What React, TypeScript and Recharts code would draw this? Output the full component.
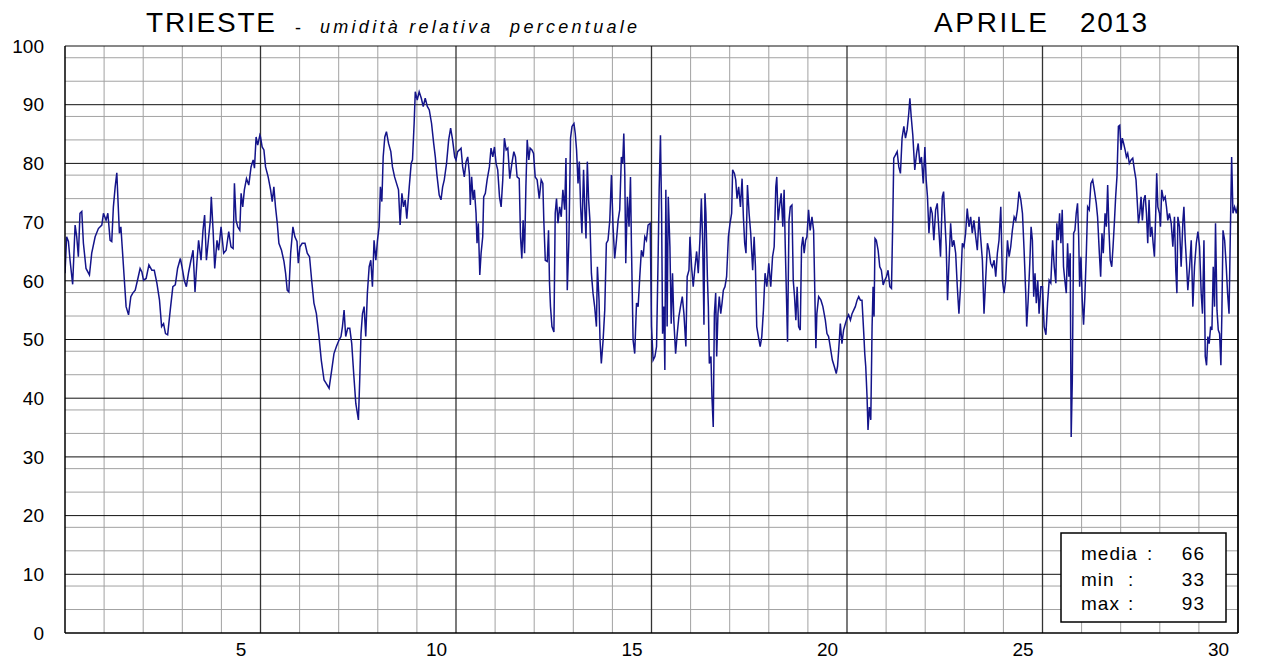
import { LineChart, Line, CartesianGrid, XAxis, YAxis } from "recharts";

const FONT = "'Liberation Sans', Arial, sans-serif";

// relative humidity (%), time in hours from 1 April 00:00
// days 1-5
const hours1 = [
  0, 1, 2.1, 3.1, 4.7, 6.2, 7.2, 8.2, 9.2, 10.3, 11.3, 12.9, 15, 16.4, 18.5, 20.5, 22.6, 23.6, 25.2, 26.3,
  27.7, 28.7, 29.7, 30.8, 31.8, 32.6, 33.4, 34.3, 35.1, 36.3, 37.5, 39, 40.4, 41.6, 43.1, 44.5, 46.1, 47.2, 48.2, 49.8,
  51.5, 53.3, 54.8, 56.4, 58, 59.3, 60.5, 61.7, 63, 64.6, 66.2, 67.7, 69.1, 70.8, 71.8, 73.2, 74.5, 75.9, 77.3, 78.6,
  79.8, 81, 82, 83.5, 84.7, 85.7, 86.8, 88.2, 89.2, 89.8, 90.9, 91.9, 93.3, 94.3, 95.8, 97.4, 98.9, 100.5, 101.9, 103.2,
  104, 105, 106, 107.3, 108.1, 109.1, 110.1, 111.4, 112.8, 114.2, 115.5, 116.3, 117.3, 118.3, 119.6,
];
const rh1 = [
  61.3, 67.5, 66.7, 63.5, 59.4, 69.5, 67.5, 64.1, 71.5, 71.8, 66.4, 62.1, 61, 64.7, 67.5, 68.9, 69.5, 71.5, 70.3, 71.5,
  66.9, 66.7, 72.6, 76, 78.4, 73.2, 68.1, 69.2, 65.8, 60.7, 55.6, 54.2, 57.3, 57.9, 58.4, 60.1, 62.1, 61.5, 60.1, 60.4,
  62.7, 61.8, 61.8, 59.6, 56.7, 52.2, 52.7, 51, 50.8, 55, 59, 59.3, 62.1, 63.8, 62.4, 60.1, 59, 61.5, 63.5, 65.2,
  58.1, 63.3, 66.9, 63.5, 68.6, 71.2, 63.5, 67.5, 70.3, 74.3, 68.6, 62.1, 66.9, 65.2, 69.2, 64.7, 65.2, 68.4, 65.8, 65.5,
  76.6, 70.3, 69.2, 68.6, 74.9, 72.6, 75.5, 77.4, 76.3, 79.4, 80.6, 79.2, 84.5, 83.1, 84.8,
];

// days 6-10
const hours2 = [
  120, 121, 122.1, 123.1, 124.7, 126.2, 127.2, 128.2, 129.2, 130.3, 131.3, 132.9, 134.4, 135.4, 136.4, 137.4, 138.5, 139.9, 141.1, 142.4,
  143.2, 144.2, 145.6, 147.3, 148.7, 150.1, 151.4, 152.8, 154.3, 155.9, 157.3, 159, 160.4, 162.1, 163.7, 165.1, 166.6, 168.2, 169.4, 170.3,
  171.3, 172.3, 173.5, 174.8, 176, 177.2, 178.5, 180.1, 180.9, 181.7, 182.6, 183.6, 184.6, 185.6, 186.7, 187.7, 188.7, 189.7, 190.8, 191.8,
  192.8, 193.6, 194.5, 195.3, 196.3, 197.3, 198.6, 200, 201, 202.3, 203.5, 204.7, 205.7, 206.8, 207.8, 208.8, 209.8, 211.3, 212.5, 213.3,
  214.3, 215, 216.2, 217.4, 218.7, 219.9, 221.1, 222.4, 223.6, 225, 226.3, 227.3, 228.3, 229.7, 230.8, 231.8, 232.8, 234.2, 235.5, 236.7,
  237.9, 239.2,
];
const rh2 = [
  84.5, 82.8, 82.3, 79.4, 77.7, 75.5, 73.5, 76, 72.6, 69.8, 66.4, 65.2, 63.3, 61.3, 58.4, 58.1, 64.7, 69.2, 67.5, 66.7,
  63, 65.8, 66.4, 66.4, 64.7, 64.1, 60.1, 56.2, 54.4, 50.5, 46.5, 43.1, 42.5, 41.7, 44.8, 47.6, 48.8, 49.9, 50.5, 52.2,
  55, 50.5, 51.9, 51.9, 49.3, 44.2, 39.1, 36.3, 43.1, 51, 54.4, 55.6, 50.5, 57.9, 62.4, 63.5, 59, 66.9, 63.5, 66.9,
  69.2, 76, 73.5, 81.1, 84.5, 85.4, 83.4, 82, 79.4, 77.7, 76.6, 75.5, 69.5, 74.9, 72.6, 73.8, 70.6, 76, 80, 80.6,
  86.8, 92.2, 90.8, 92.2, 91.1, 89.7, 91.1, 89.7, 89.1, 86.8, 83.4, 81.1, 78, 74.6, 73.8, 76, 77.2, 80, 84, 86,
  84, 81.1,
];

// days 11-15
const hours3 = [
  240, 241, 242.1, 243.1, 244.1, 245.1, 246.2, 247.2, 248.2, 248.8, 249.6, 250.5, 251.3, 252.3, 252.9, 253.7, 254.6, 255.4, 256.4, 257,
  258, 259.1, 260.5, 261.5, 262.6, 263.6, 264.6, 265.6, 266.7, 267.7, 268.7, 269.7, 270.8, 271.8, 273, 274.3, 275.5, 276.5, 277.5, 278.8,
  279.6, 280.4, 281.2, 282.1, 282.9, 283.7, 284.7, 285.5, 286.6, 287.6, 288.6, 289.8, 291.1, 292.3, 293.3, 293.9, 294.8, 296, 296.8, 297.4,
  298, 298.9, 300.1, 300.9, 301.7, 302.6, 303.6, 304.6, 305.6, 306.7, 307.5, 308.3, 309.3, 310.3, 311.2, 312.4, 313.2, 314, 314.9, 315.7,
  316.5, 317.3, 318.3, 319, 319.8, 320.6, 321.4, 322.2, 323.1, 324.1, 325.1, 326.2, 326.8, 327.8, 328.4, 329.2, 330.3, 331.3, 332.3, 333.3,
  334.4, 335.4, 336.4, 337.4, 338.5, 339.5, 340.5, 341.5, 342.3, 343, 343.6, 344.2, 345.2, 346.2, 347.1, 347.7, 348.7, 349.7, 350.8, 351.8,
  352.8, 353.8, 354.9, 355.9, 356.9, 357.9, 359.2,
];
const rh3 = [
  80.6, 82, 82.3, 82.6, 79.4, 77.7, 80.3, 81.1, 78.3, 72.9, 77.7, 73.8, 75.5, 71.5, 66.4, 69.8, 61, 64.7, 67.5, 74.3,
  74.9, 77.2, 79.4, 82.6, 81.1, 82.8, 80, 78.9, 74.3, 72.6, 77.2, 84.3, 82.3, 82.6, 77.4, 80, 82, 81.1, 77.7, 77.4,
  67.5, 63.8, 70.3, 64.7, 76, 84, 80.6, 82.6, 82.3, 81.7, 77.7, 77.2, 74, 77.2, 76.6, 70.3, 63.5, 63.3, 68.6, 59.6,
  55.6, 52.2, 51.3, 71.5, 74, 69.8, 72.6, 70.9, 75.5, 72.1, 80.9, 58.4, 66.9, 84.3, 86.3, 86.8, 85.1, 82.3, 76.6, 80.3,
  72.6, 68.1, 78.9, 72.6, 67.2, 80.3, 73.8, 70.3, 61.3, 57.9, 55.6, 52.2, 62.4, 56.7, 49.9, 45.9, 49.9, 55, 66.4, 66.9,
  70.3, 78, 69.2, 63.8, 66.9, 70.3, 72.1, 81.1, 80, 85.1, 78.3, 63, 74.3, 69.2, 77.7, 65.8, 49.9, 47.6, 56.2, 55.6,
  60.7, 65.2, 64.1, 67.5, 66.9, 69.5, 69.8,
];

// days 16-20
const hours4 = [
  360, 361, 362.1, 363.1, 364.1, 364.7, 365.5, 366.2, 366.8, 367.6, 368.2, 368.8, 369.6, 370.3, 371.3, 372.1, 372.9, 373.7, 374.8, 375.8,
  376.8, 377.8, 378.9, 379.9, 381.1, 381.9, 383, 383.6, 384.6, 385.6, 386.7, 387.7, 388.7, 389.7, 390.6, 391.4, 392.2, 392.8, 393.4, 394.3,
  394.9, 395.5, 396.5, 397.1, 397.9, 398.6, 399.4, 400, 400.8, 401.6, 402.5, 403.3, 404.1, 405.1, 406.1, 407.2, 408.2, 409.2, 409.8, 410.9,
  411.7, 412.5, 413.5, 414.6, 415.6, 416.4, 417.2, 418, 418.9, 419.9, 420.9, 422.1, 423, 423.8, 424.6, 425.6, 426.7, 427.7, 428.7, 429.7,
  430.8, 432, 433.2, 434.3, 435.3, 436.3, 436.9, 437.7, 438.6, 439.6, 440.6, 441.4, 442.1, 442.7, 443.5, 444.4, 445.2, 446.2, 447, 447.8,
  448.6, 449.4, 450.3, 451.3, 452.1, 452.9, 453.7, 454.6, 455.4, 456.4, 457.4, 458.5, 459.5, 460.1, 460.9, 461.5, 462.6, 464, 465.2, 466.7,
  467.7, 468.7, 469.7, 471, 472.2, 473.4, 474.2, 475.3, 475.9, 476.9, 477.9, 479,
];
const rh4 = [
  52.2, 46.5, 47.1, 48.8, 64.7, 75.5, 84.8, 71.5, 51, 55.6, 44.8, 75.5, 52.2, 74.3, 65.8, 52.7, 61.3, 53.3, 47.6, 51,
  53.9, 55.6, 57.3, 54.4, 48.8, 60.7, 61.8, 67.5, 62.4, 59, 62.4, 65, 61.3, 66.9, 74, 66.9, 52.5, 74.9, 71.5, 60.7,
  55.6, 45.9, 47.1, 40.3, 35.1, 54.4, 57.9, 47.1, 54.4, 57.3, 54.4, 56.2, 58.4, 59, 60.7, 67.5, 69.8, 71.5, 78.9, 78.3,
  77.2, 74, 76, 72.6, 77.4, 70.9, 66.4, 64.7, 76.3, 71.5, 68.1, 61.8, 67.5, 62.4, 52.2, 50.5, 48.8, 50.5, 55, 61.3,
  59, 63, 59, 64.1, 65.8, 76, 77.7, 70.3, 72.6, 74.9, 69.2, 75.5, 65.8, 59, 49.6, 70.3, 72.6, 72.9, 60.1, 57.3,
  53.3, 59, 52.2, 51.6, 65.8, 67.5, 64.7, 66.9, 67.5, 72.1, 68.6, 70.9, 68.6, 60.1, 48.5, 54.4, 57.3, 56.7, 55.6, 53.3,
  51, 50.5, 48.8, 46.5, 45.4, 44.2, 45.4, 49.9, 52.7, 49.3, 51.6, 52.7,
];

// days 21-25
const hours5 = [
  480, 481, 482.1, 483.1, 484.1, 485.1, 486.2, 487.2, 488.2, 489.2, 490.3, 490.9, 491.5, 492.3, 492.9, 493.7, 494.6, 495.4, 496, 496.6,
  497.2, 498, 499.1, 500.1, 501.1, 502.2, 503.2, 504.2, 505.2, 506.3, 507.3, 508.1, 508.7, 509.7, 510.8, 511.8, 512.8, 513.8, 514.9, 515.9,
  516.9, 517.9, 518.6, 519.4, 520.4, 521.6, 522.7, 523.7, 524.7, 525.7, 526.8, 527.8, 528.6, 529.4, 530.3, 531.3, 532.3, 533.3, 534.4, 535.4,
  536.4, 537.4, 538.5, 539.3, 540.1, 540.9, 541.7, 542.6, 543.6, 544.6, 545.6, 546.7, 547.7, 548.7, 549.7, 550.8, 551.8, 552.8, 553.8, 554.9,
  555.9, 556.9, 557.9, 559, 560, 561, 562, 563.1, 564.1, 565.1, 566.2, 567.2, 568.2, 569.2, 570.3, 571.3, 572.3, 573.3, 574.4, 575.4,
  576.4, 577.4, 578.5, 579.5, 580.5, 581.5, 582.6, 583.6, 584.6, 585.6, 586.7, 587.7, 588.7, 589.7, 590.3, 591.2, 592.2, 593, 593.8, 594.6,
  595.4, 596.2, 597.1, 597.9, 599,
];
const rh5 = [
  53.6, 54.2, 53.3, 54.4, 55, 55.6, 56.7, 57.3, 56.7, 56.7, 51, 47.6, 45.4, 40.3, 34.6, 38.5, 36.3, 52.2, 59, 53.9,
  67.2, 66.9, 65.2, 62.4, 61.8, 59.3, 60.1, 60.7, 61.8, 59, 58.7, 70.3, 80.9, 81.4, 82, 79.4, 78.3, 84.3, 86.3, 84.3,
  85.7, 88.5, 91.1, 88, 84.8, 78.9, 81.7, 83.4, 80, 81.1, 76.6, 82.8, 77.2, 74.3, 68.1, 72.6, 71.5, 66.9, 72.1, 73.2,
  68.6, 64.1, 74.3, 75.2, 70.3, 65.8, 56.7, 63, 69.8, 65.8, 66.9, 64.7, 59, 54.4, 59, 66.4, 65.8, 68.1, 72.3, 69.2,
  70.9, 68.1, 70.3, 67.5, 65.2, 70.9, 67.5, 63.5, 54.4, 60.1, 66.4, 65.2, 63, 62.4, 63.5, 60.7, 64.7, 66.9, 72.6, 60.1,
  57.9, 60.1, 66.9, 64.1, 65.8, 68.6, 70.9, 70.3, 72.1, 75.2, 73.8, 71.5, 65.2, 57.9, 52.2, 56.7, 63, 69.2, 66.9, 57.3,
  61.3, 56.2, 60.1, 54.4, 59,
];

// days 26-30
const hours6 = [
  600, 601, 602.1, 603.1, 604.1, 605.1, 606.2, 607.2, 608.2, 608.8, 609.6, 610.5, 611.3, 612.1, 612.9, 613.7, 614.6, 615.4, 616.2, 617,
  617.6, 618.3, 619.1, 619.9, 620.7, 621.5, 622.2, 622.8, 623.6, 624.4, 625.2, 626, 626.9, 627.7, 628.7, 629.7, 630.8, 631.8, 633, 633.8,
  634.9, 635.7, 636.5, 637.3, 638.4, 639.2, 640, 640.8, 641.6, 642.5, 643.3, 644.1, 644.9, 645.7, 646.6, 647.4, 648.2, 649, 649.8, 650.7,
  651.5, 652.3, 653.3, 654.4, 655.4, 656.4, 657.4, 658, 658.9, 659.7, 660.5, 661.3, 662.2, 663, 663.8, 664.6, 665.4, 666.2, 667.1, 667.9,
  668.7, 669.5, 670.1, 670.8, 671.8, 672.4, 673.2, 674.3, 675.3, 676.1, 676.9, 677.9, 679, 680, 681, 681.8, 682.5, 683.1, 684.1, 685.1,
  686.2, 686.8, 687.6, 688.4, 689.2, 690.3, 691.3, 692.3, 693.3, 694.4, 695.4, 696.4, 697.4, 698.2, 699.1, 699.9, 700.7, 701.5, 702.3, 703.2,
  704, 704.8, 705.6, 706.2, 707.1, 707.9, 708.7, 709.5, 710.1, 710.8, 711.8, 712.8, 713.6, 714.5, 715.3, 716.1, 716.9, 717.9, 719, 720,
];
const rh6 = [
  59, 52.2, 50.8, 56.2, 60.1, 59.6, 66.9, 62.4, 59.6, 69.8, 66.9, 71.5, 66.4, 72.1, 62.4, 60.1, 57.9, 66.4, 60.7, 64.7,
  33.4, 43.1, 68.1, 68.6, 71.5, 73.2, 67.5, 59, 64.1, 56.7, 52.5, 57.3, 64.7, 72.6, 72.1, 76.6, 77.2, 75.5, 73.2, 70.9,
  64.7, 60.7, 68.1, 64.7, 71.5, 69.2, 76.3, 68.6, 63.5, 62.4, 65.8, 69.8, 74.3, 77.7, 86.3, 86.5, 82.3, 84.3, 83.4, 82.3,
  81.1, 81.7, 80, 80.6, 80.9, 78.9, 77.2, 74.3, 69.8, 71.5, 74.3, 70.3, 73.8, 74.6, 71.5, 66.4, 73.8, 67.5, 69.2, 66.4,
  64.1, 71.5, 78.3, 72.6, 71.5, 69.2, 75.5, 73.8, 74.3, 72.6, 70.3, 71.5, 69.8, 65.8, 70.9, 61.8, 57.9, 70.9, 69.2, 62.4,
  70.3, 72.6, 66.9, 63, 58.4, 62.4, 66.9, 55.6, 62.4, 66.4, 68.4, 65.8, 57.9, 54.4, 66.9, 47.1, 45.6, 50.5, 49.3, 52.2,
  51.6, 62.4, 55.6, 69.8, 55, 51.6, 51, 45.6, 54.4, 68.6, 66.9, 62.4, 57.9, 54.4, 68.1, 81.1, 71.5, 72.6, 71.5, 73.2,
];

const dayLabels = [5, 10, 15, 20, 25, 30];
const rhTicks = [0, 10, 20, 30, 40, 50, 60, 70, 80, 90, 100];
const statLabels = ["media", "min", "max"];
const statValues = [66, 33, 93];

const hours = [...hours1, ...hours2, ...hours3, ...hours4, ...hours5, ...hours6];
const rh = [...rh1, ...rh2, ...rh3, ...rh4, ...rh5, ...rh6];
const rows = hours.map((hour, i) => ({ hour, rh: rh[i] }));

// grid: one line per day, dark every 5 days; one line every 2%, dark every 10%
const dayLines = Array.from({ length: 30 }, (_, i) => (i + 1) * 24);
const minorDayLines = dayLines.filter((h) => h % 120 !== 0);
const majorDayLines = dayLines.filter((h) => h % 120 === 0);
const minorRhLines = Array.from({ length: 50 }, (_, i) => i * 2).filter((v) => v % 10 !== 0);

export default function App() {
  const statY = [560, 586, 610];
  return (
    <div style={{ position: "absolute", left: 0, top: 0, width: 1285, height: 666, background: "#fff", fontFamily: FONT }}>
      <LineChart width={1285} height={666} data={rows} margin={{ top: 46, right: 47, bottom: 0, left: 0 }}>
        <CartesianGrid horizontalValues={minorRhLines} verticalValues={minorDayLines} stroke="#a2a2a2" strokeWidth={1} />
        <CartesianGrid horizontal={false} verticalValues={majorDayLines} stroke="#333" strokeWidth={1.3} />
        <CartesianGrid vertical={false} horizontalValues={rhTicks.slice(1)} stroke="#111" strokeWidth={1} />
        <XAxis
          dataKey="hour"
          type="number"
          domain={[0, 720]}
          allowDataOverflow
          ticks={dayLabels.map((d) => d * 24 - 12)}
          tickFormatter={(h: number) => String((h + 12) / 24)}
          height={33}
          tickSize={0}
          tickMargin={10}
          axisLine={{ stroke: "#000", strokeWidth: 1.5 }}
          tick={{ fill: "#000", fontSize: 19, fontFamily: FONT }}
        />
        <YAxis
          type="number"
          domain={[0, 100]}
          ticks={rhTicks}
          width={65}
          tickSize={0}
          tickMargin={21}
          axisLine={{ stroke: "#000", strokeWidth: 1.5 }}
          tick={{ fill: "#000", fontSize: 19, fontFamily: FONT }}
        />
        <Line
          type="linear"
          dataKey="rh"
          stroke="#14148a"
          strokeWidth={1.5}
          dot={false}
          isAnimationActive={false}
        />
      </LineChart>
      <svg width={1285} height={666} style={{ position: "absolute", left: 0, top: 0, pointerEvents: "none" }} fontFamily={FONT}>
        <line x1={1238} y1={46} x2={1238} y2={633} stroke="#000" strokeWidth={1.5} />
        <text x={146} y={32} fontSize={28} textLength={129} lengthAdjust="spacing">TRIESTE</text>
        <text x={295} y={34} fontSize={18}>-</text>
        <text x={320} y={33} fontSize={18} fontStyle="italic" textLength={317} lengthAdjust="spacing" style={{ whiteSpace: "pre" }}>
          {"umidità relativa  percentuale"}
        </text>
        <text x={934} y={32} fontSize={28} textLength={113} lengthAdjust="spacing">APRILE</text>
        <text x={1080} y={32} fontSize={28} textLength={67} lengthAdjust="spacing">2013</text>
        <rect x={1061} y={533} width={165} height={89} fill="#fff" stroke="#000" strokeWidth={1.5} />
        {statLabels.map((s, i) => (
          <g key={s}>
            <text x={1081} y={statY[i]} fontSize={19} letterSpacing={1}>{s}</text>
            <text x={s === "media" ? 1147 : 1128} y={statY[i]} fontSize={19}>:</text>
            <text x={1205} y={statY[i]} fontSize={19} textAnchor="end" letterSpacing={1}>{statValues[i]}</text>
          </g>
        ))}
      </svg>
    </div>
  );
}
